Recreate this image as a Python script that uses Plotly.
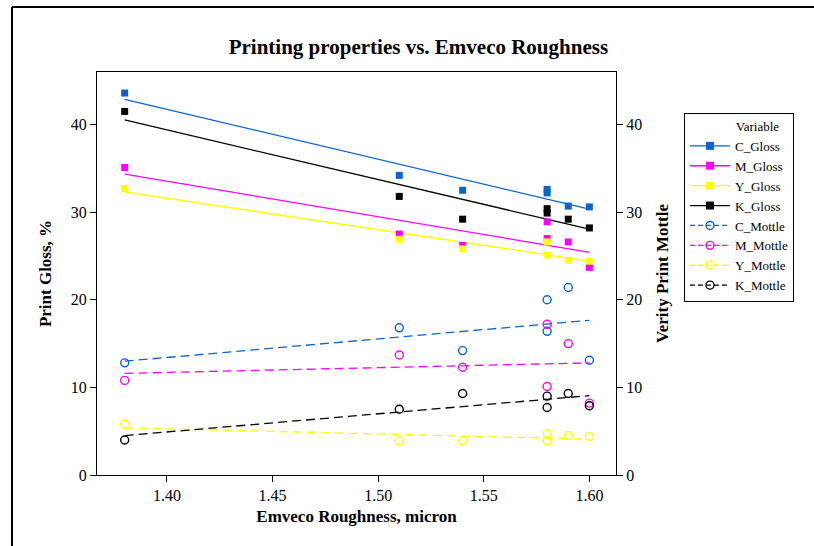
import numpy as np
import plotly.graph_objects as go

# Emveco roughness (micron) for each sample
roughness = [1.38, 1.51, 1.54, 1.58, 1.58, 1.59, 1.60]

# Print gloss, %
c_gloss = [43.6, 34.2, 32.5, 32.6, 32.2, 30.7, 30.6]
m_gloss = [35.1, 27.5, 26.2, 28.9, 27.0, 26.6, 23.7]
y_gloss = [32.7, 26.9, 25.8, 26.6, 25.1, 24.5, 24.4]
k_gloss = [41.5, 31.8, 29.2, 30.4, 29.9, 29.2, 28.2]

# Verity print mottle
c_mottle = [12.8, 16.8, 14.2, 20.0, 16.4, 21.4, 13.1]
m_mottle = [10.8, 13.7, 12.3, 17.2, 10.1, 15.0, 8.2]
y_mottle = [5.8, 3.9, 3.9, 4.7, 3.9, 4.5, 4.4]
k_mottle = [4.0, 7.5, 9.3, 9.0, 7.7, 9.3, 7.9]

y_ticks = [0, 10, 20, 30, 40]
x_ticks = [1.40, 1.45, 1.50, 1.55, 1.60]

BLUE = "#0A64CC"
MAGENTA = "#FF00FF"
YELLOW = "#FFFF00"
BLACK = "#000000"
FONT = "Liberation Serif"
DASH = "9px,5px"

x = np.array(roughness)
x_fit = np.array([x.min(), x.max()])


def fit_line(values):
    slope, intercept = np.polyfit(x, np.array(values), 1)
    return slope * x_fit + intercept


fig = go.Figure()

gloss = [("C_Gloss", c_gloss, BLUE), ("M_Gloss", m_gloss, MAGENTA),
         ("Y_Gloss", y_gloss, YELLOW), ("K_Gloss", k_gloss, BLACK)]
mottle = [("C_Mottle", c_mottle, BLUE), ("M_Mottle", m_mottle, MAGENTA),
          ("Y_Mottle", y_mottle, YELLOW), ("K_Mottle", k_mottle, BLACK)]

# regression lines (drawn first, legend handled by the marker traces)
for name, vals, col in gloss:
    fig.add_trace(go.Scatter(x=x_fit, y=fit_line(vals), mode="lines",
                             line=dict(color=col, width=1.3),
                             showlegend=False, hoverinfo="skip", yaxis="y"))
for name, vals, col in mottle:
    fig.add_trace(go.Scatter(x=x_fit, y=fit_line(vals), mode="lines",
                             line=dict(color=col, width=1.3, dash=DASH),
                             showlegend=False, hoverinfo="skip", yaxis="y2"))

# legend-only entries showing line + marker samples
for name, vals, col in gloss:
    fig.add_trace(go.Scatter(x=[None], y=[None], mode="lines+markers", name=name,
                             line=dict(color=col, width=1.3),
                             marker=dict(symbol="square", size=8, color=col),
                             yaxis="y"))
for name, vals, col in mottle:
    fig.add_trace(go.Scatter(x=[None], y=[None], mode="lines+markers", name=name,
                             line=dict(color=col, width=1.3, dash="5px,3px"),
                             marker=dict(symbol="circle-open", size=8, color=col,
                                         line=dict(width=1.4, color=col)),
                             yaxis="y2"))

# data points
for name, vals, col in gloss:
    fig.add_trace(go.Scatter(x=roughness, y=vals, mode="markers", name=name,
                             marker=dict(symbol="square", size=7, color=col),
                             showlegend=False, yaxis="y"))
for name, vals, col in mottle:
    fig.add_trace(go.Scatter(x=roughness, y=vals, mode="markers", name=name,
                             marker=dict(symbol="circle-open", size=8, color=col,
                                         line=dict(width=1.4, color=col)),
                             showlegend=False, yaxis="y2"))

axis_common = dict(showgrid=False, zeroline=False, showline=True,
                   linecolor="black", linewidth=1.2, ticks="outside",
                   ticklen=6, tickwidth=1, tickcolor="black",
                   tickfont=dict(family=FONT, size=16, color="black"))

fig.update_layout(
    width=814, height=546,
    margin=dict(l=97, r=198, t=72, b=71),
    paper_bgcolor="white", plot_bgcolor="white",
    font=dict(family=FONT, color="black"),
    title=dict(text="<b>Printing properties vs. Emveco Roughness</b>",
               font=dict(family=FONT, size=21, color="black"),
               x=0.514, xref="container", xanchor="center",
               y=1 - 47 / 546, yref="container", yanchor="middle"),
    xaxis=dict(range=[1.3669, 1.6126], tickvals=x_ticks,
               ticktext=[f"{v:.2f}" for v in x_ticks], mirror=True,
               title=dict(text="<b>Emveco Roughness, micron</b>",
                          font=dict(family=FONT, size=17), standoff=6),
               **axis_common),
    yaxis=dict(range=[0, 46], tickvals=y_ticks,
               title=dict(text="<b>Print Gloss, %</b>",
                          font=dict(family=FONT, size=17), standoff=14),
               **axis_common),
    yaxis2=dict(range=[0, 46], tickvals=y_ticks, overlaying="y", side="right",
                title=dict(text="<b>Verity Print Mottle</b>",
                           font=dict(family=FONT, size=17), standoff=14),
                **axis_common),
    legend=dict(x=684 / 814, xref="container", xanchor="left",
                y=1 - 113 / 546, yref="container", yanchor="top",
                bgcolor="white", bordercolor="black", borderwidth=1,
                font=dict(family=FONT, size=13, color="black"),
                title=dict(text="&nbsp;" * 15 + "Variable", side="top",
                           font=dict(family=FONT, size=13)),
                itemwidth=40, tracegroupgap=0, traceorder="normal"),
    showlegend=True,
)

# page frame: left and top rules
fig.add_shape(type="line", xref="paper", yref="paper",
              x0=(12 - 97) / 519, x1=(814 - 97) / 519,
              y0=(475 - 7) / 403, y1=(475 - 7) / 403,
              line=dict(color="black", width=2))
fig.add_shape(type="line", xref="paper", yref="paper",
              x0=(12 - 97) / 519, x1=(12 - 97) / 519,
              y0=(475 - 7) / 403, y1=(475 - 548) / 403,
              line=dict(color="black", width=2))

fig.write_html("out.html")
